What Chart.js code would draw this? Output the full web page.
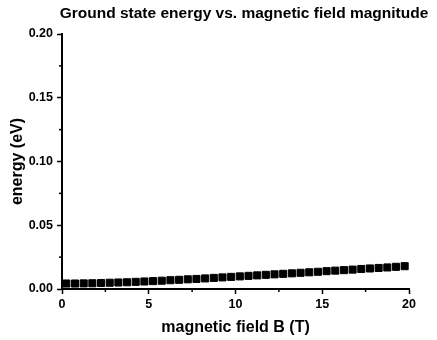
<!DOCTYPE html>
<html>
<head>
<meta charset="utf-8">
<script src="https://cdn.jsdelivr.net/npm/chart.js@4/dist/chart.umd.min.js"></script>
<style>
  html, body { margin: 0; padding: 0; background: #fff; }
  #wrap { width: 437px; height: 340px; }
</style>
</head>
<body>
<div id="wrap"><canvas id="energyChart"></canvas></div>
<script>
// magnetic field B (T)
var fieldB = [0.25, 0.75, 1.25, 1.75, 2.25, 2.75, 3.25, 3.75, 4.25, 4.75,
              5.25, 5.75, 6.25, 6.75, 7.25, 7.75, 8.25, 8.75, 9.25, 9.75,
              10.25, 10.75, 11.25, 11.75, 12.25, 12.75, 13.25, 13.75, 14.25, 14.75,
              15.25, 15.75, 16.25, 16.75, 17.25, 17.75, 18.25, 18.75, 19.25, 19.75];
// ground state energy (eV)
var energy = [0.0043, 0.0043, 0.0044, 0.0045, 0.0047, 0.0049, 0.0051, 0.0053, 0.0056, 0.0059,
              0.0062, 0.0065, 0.0069, 0.0072, 0.0076, 0.0079, 0.0083, 0.0087, 0.0091, 0.0095,
              0.0099, 0.0103, 0.0107, 0.0111, 0.0115, 0.0119, 0.0123, 0.0127, 0.0131, 0.0135,
              0.0140, 0.0144, 0.0148, 0.0152, 0.0157, 0.0161, 0.0165, 0.0169, 0.0174, 0.0179];
var titleText = 'Ground state energy vs. magnetic field magnitude';
var xTitle = 'magnetic field B (T)';
var yTitle = 'energy (eV)';

var FONT = '"Liberation Sans", Arial, sans-serif';

function isMajor(v, step) {
    return Math.abs(v / step - Math.round(v / step)) < 1e-6;
}

// title drawn over the plot, plus the short minor ticks
var extras = {
    id: 'extras',
    afterDraw: function(chart) {
        var ctx = chart.ctx;
        var area = chart.chartArea;
        var xs = chart.scales.x, ys = chart.scales.y;
        ctx.save();
        ctx.strokeStyle = '#000';
        ctx.lineWidth = 1.5;
        xs.ticks.forEach(function(t) {
            if (!isMajor(t.value, 5)) {
                var px = xs.getPixelForValue(t.value);
                ctx.beginPath();
                ctx.moveTo(px, area.bottom);
                ctx.lineTo(px, area.bottom + 3);
                ctx.stroke();
            }
        });
        ys.ticks.forEach(function(t) {
            if (!isMajor(t.value, 0.05)) {
                var py = ys.getPixelForValue(t.value);
                ctx.beginPath();
                ctx.moveTo(area.left, py);
                ctx.lineTo(area.left - 3, py);
                ctx.stroke();
            }
        });
        ctx.fillStyle = '#000';
        ctx.font = 'bold 15.5px ' + FONT;
        ctx.textAlign = 'center';
        ctx.textBaseline = 'middle';
        ctx.fillText(titleText, (area.left + area.right) / 2 + 8.5, 14);
        ctx.restore();
    }
};

new Chart(document.getElementById('energyChart'), {
    type: 'scatter',
    data: {
        datasets: [{
            data: fieldB.map(function(b, i) { return {x: b, y: energy[i]}; }),
            pointStyle: 'rect',
            pointRadius: 5,
            pointBorderWidth: 1,
            backgroundColor: '#000',
            borderColor: '#000',
            clip: false
        }]
    },
    options: {
        responsive: true,
        maintainAspectRatio: false,
        animation: false,
        layout: { padding: { top: 34, right: 28, left: 0, bottom: 0 } },
        plugins: { legend: { display: false }, tooltip: { enabled: false } },
        scales: {
            x: {
                type: 'linear',
                min: 0, max: 20,
                afterFit: function(s) { s.height = 51; },
                border: { color: '#000', width: 2 },
                grid: {
                    drawOnChartArea: false,
                    tickLength: 5,
                    tickWidth: 1.5,
                    tickColor: function(c) { return isMajor(c.tick.value, 5) ? '#000' : 'rgba(0,0,0,0)'; }
                },
                ticks: {
                    stepSize: 2.5,
                    color: '#000',
                    padding: 3,
                    maxRotation: 0,
                    autoSkip: false,
                    font: { family: FONT, size: 12.5, weight: 'bold' },
                    callback: function(v) { return isMajor(v, 5) ? String(Math.round(v)) : ''; }
                },
                title: {
                    display: true,
                    text: xTitle,
                    color: '#000',
                    padding: { top: 0, bottom: 3 },
                    font: { family: FONT, size: 16, weight: 'bold' }
                }
            },
            y: {
                type: 'linear',
                min: 0, max: 0.2,
                afterFit: function(s) { s.width = 62; },
                border: { color: '#000', width: 2 },
                grid: {
                    drawOnChartArea: false,
                    tickLength: 5,
                    tickWidth: 1.5,
                    tickColor: function(c) { return isMajor(c.tick.value, 0.05) ? '#000' : 'rgba(0,0,0,0)'; }
                },
                ticks: {
                    stepSize: 0.025,
                    color: '#000',
                    padding: 4,
                    autoSkip: false,
                    font: { family: FONT, size: 12.5, weight: 'bold' },
                    callback: function(v) { return isMajor(v, 0.05) ? v.toFixed(2) : ''; }
                },
                title: {
                    display: true,
                    text: yTitle,
                    color: '#000',
                    padding: { top: 8, bottom: 0 },
                    font: { family: FONT, size: 16, weight: 'bold' }
                }
            }
        }
    },
    plugins: [extras]
});
</script>
</body>
</html>
